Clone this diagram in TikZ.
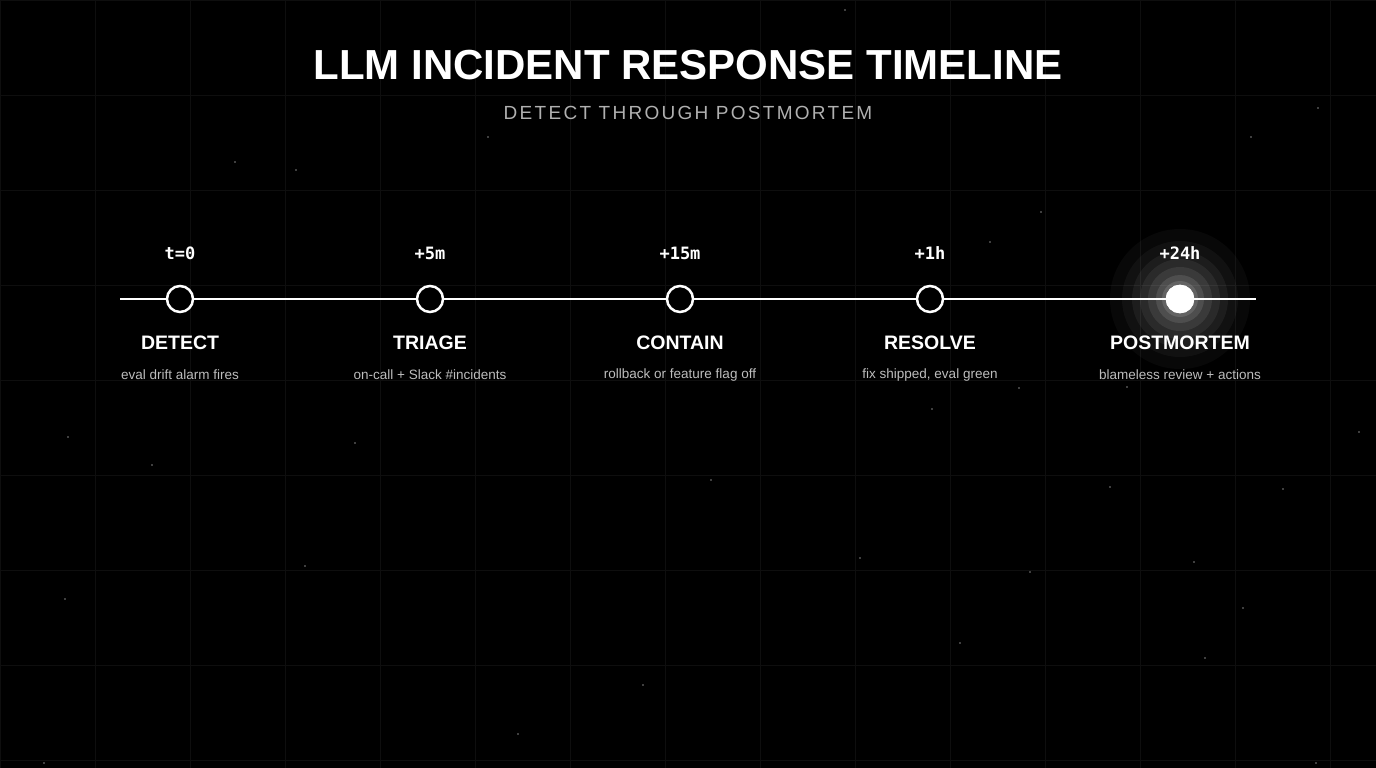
\documentclass[tikz,border=0pt]{standalone}
\usepackage{fontspec}
\setmainfont{Liberation Sans}
\newfontfamily\monof{DejaVu Sans Mono}
\usetikzlibrary{calc}
\definecolor{bg}{HTML}{000000}
\definecolor{gridc}{HTML}{0E0E0E}
\definecolor{subc}{HTML}{B0B0B0}
\definecolor{descc}{HTML}{BDBDBD}
\tikzset{
  x=1pt,y=-1pt,
  stepnode/.style={circle,draw=white,line width=2.5pt,fill=black,minimum size=26pt,inner sep=0pt},
  timelbl/.style={text=white,font=\monof\bfseries\fontsize{17}{17}\selectfont},
  namelbl/.style={text=white,font=\bfseries\fontsize{19.5}{20}\selectfont},
  desclbl/.style={text=descc,font=\fontsize{13.5}{14}\selectfont},
  star/.style={fill=white,opacity=0.5}
}
\begin{document}
\begin{tikzpicture}
\fill[bg] (0,0) rectangle (1376,768);
\useasboundingbox (0,0) rectangle (1376,768);
\foreach \gx in {0,95,...,1376} \draw[gridc,line width=0.8pt] (\gx,0) -- (\gx,768);
\foreach \gy in {0,95,...,768} \draw[gridc,line width=0.8pt] (0,\gy) -- (1376,\gy);
\foreach \sx/\sy in {235/162,296/170,488/137,845/10,1318/108,1251/137,355/443,152/465,68/437,305/566,65/599,860/558,1030/572,1283/489,1110/487,1194/562,1243/608,960/643,1205/658,643/685,518/734,1316/763,44/763,1127/387,711/480,1359/432,1041/212,990/242,1019/388,932/409}
  \fill[star] (\sx,\sy) circle (0.9);
% glow
\foreach \r/\o in {70/0.03,58/0.04,48/0.05,40/0.06,32/0.08,24/0.1,18/0.12}
  \fill[white,opacity=\o] (1180,299) circle (\r);
\node[text=white,font=\bfseries\fontsize{42}{42}\selectfont] (title) at (688,65) {LLM INCIDENT RESPONSE TIMELINE};
\node[text=subc,font=\fontsize{19}{19}\selectfont] (sub) at (688,113) {\addfontfeature{LetterSpace=12}DETECT THROUGH POSTMORTEM};
\coordinate (l) at (120,299);
\coordinate (r) at (1256,299);
\draw[white,line width=2pt] (l) -- (r);
\foreach \i/\xx/\t/\n/\d in {1/180/t=0/DETECT/eval drift alarm fires,2/430/+5m/TRIAGE/on-call + Slack \#incidents,3/680/+15m/CONTAIN/rollback or feature flag off,4/930/+1h/RESOLVE/{fix shipped, eval green},5/1180/+24h/POSTMORTEM/blameless review + actions}{
  \node[stepnode] (c\i) at (\xx,299) {};
  \node[timelbl] (t\i) at (\xx,253) {\t};
  \node[namelbl] (n\i) at (\xx,343) {\n};
  \node[desclbl] (d\i) at (\xx,375) {\d};
}
\node[circle,fill=white,draw=white,line width=2.5pt,minimum size=26pt,inner sep=0pt] at (c5) {};
\end{tikzpicture}
\end{document}
